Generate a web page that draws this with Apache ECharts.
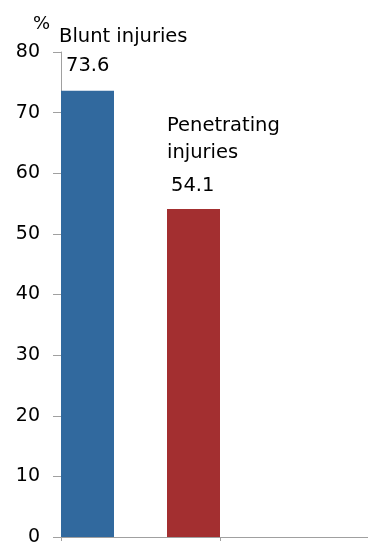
<!DOCTYPE html>
<html>
<head>
<meta charset="utf-8">
<script src="https://cdn.jsdelivr.net/npm/echarts@6/dist/echarts.min.js"></script>
<style>
html,body{margin:0;padding:0;background:#fff;}
#chart{width:368px;height:546px;}
</style>
</head>
<body>
<div id="chart"></div>
<script>
// Data
var categories = ['', ''];
var seriesNames = ['Blunt injuries', 'Penetrating\ninjuries'];
var bluntValues = [73.6, '-'];
var penetratingValues = [54.1, '-'];
var yTicks = [0, 10, 20, 30, 40, 50, 60, 70, 80];

var FONT = 'DejaVu Sans';
var chart = echarts.init(document.getElementById('chart'), null, {renderer: 'canvas'});

function fmt(p) {
  return '{n|' + p.seriesName + '}\n{v|' + p.value + '}';
}

chart.setOption({
  animation: false,
  backgroundColor: '#ffffff',
  grid: {left: 61, top: 52, width: 318, height: 485, containLabel: false, outerBoundsMode: 'none'},
  xAxis: {
    type: 'category',
    data: categories,
    axisLine: {lineStyle: {color: '#A0A0A0', width: 1}},
    axisTick: {show: true, length: 4, lineStyle: {color: '#A0A0A0'}},
    axisLabel: {show: false},
    splitLine: {show: false}
  },
  yAxis: {
    type: 'value',
    min: yTicks[0],
    max: yTicks[yTicks.length - 1],
    interval: yTicks[1] - yTicks[0],
    name: '%',
    nameLocation: 'end',
    nameGap: 19,
    nameTextStyle: {fontFamily: FONT, fontSize: 18, color: '#000', align: 'right', padding: [0, 11, 0, 0]},
    axisLine: {show: true, lineStyle: {color: '#A0A0A0', width: 1}},
    axisTick: {show: true, length: 8, lineStyle: {color: '#A0A0A0'}},
    axisLabel: {fontFamily: FONT, fontSize: 19, color: '#000', margin: 21},
    splitLine: {show: false}
  },
  series: [
    {
      name: seriesNames[0],
      type: 'bar',
      data: bluntValues,
      barWidth: 53,
      barGap: '100%',
      barCategoryGap: 0,
      itemStyle: {color: '#31699E'},
      label: {
        show: true,
        position: [-2, -10],
        align: 'left',
        verticalAlign: 'bottom',
        formatter: fmt,
        rich: {
          n: {fontFamily: FONT, fontSize: 19.5, color: '#000', lineHeight: 29},
          v: {fontFamily: FONT, fontSize: 19.5, color: '#000', lineHeight: 29, padding: [0, 0, 0, 7]}
        }
      }
    },
    {
      name: seriesNames[1],
      type: 'bar',
      data: penetratingValues,
      barWidth: 53,
      barGap: '100%',
      barCategoryGap: 0,
      itemStyle: {color: '#A32F30'},
      label: {
        show: true,
        position: [0, -3],
        align: 'left',
        verticalAlign: 'bottom',
        formatter: fmt,
        rich: {
          n: {fontFamily: FONT, fontSize: 19.5, color: '#000', lineHeight: 27},
          v: {fontFamily: FONT, fontSize: 19.5, color: '#000', lineHeight: 40, padding: [0, 0, 0, 4]}
        }
      }
    }
  ]
});
</script>
</body>
</html>
